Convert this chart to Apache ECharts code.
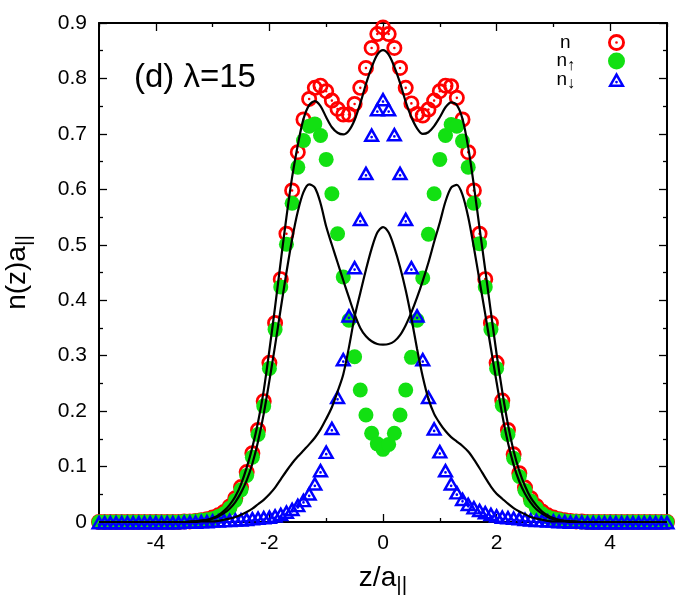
<!DOCTYPE html>
<html>
<head>
<meta charset="utf-8">
<script src="https://cdn.jsdelivr.net/npm/echarts@6/dist/echarts.min.js"></script>
<style>html,body{margin:0;padding:0;background:#fff}#c{width:700px;height:600px}</style>
</head>
<body>
<div id="c"></div>
<script>
// z grid, -5 .. 5 in steps of 0.1
const zGrid = Array.from({length: 101}, (_, i) => Math.round((-5 + 0.1 * i) * 10) / 10);

const xMajorTicks = [-4, -2, 0, 2, 4];
const xMinorTicks = [-5, -3, -1, 1, 3, 5];
const yTickLabels = ['0', '0.1', '0.2', '0.3', '0.4', '0.5', '0.6', '0.7', '0.8', '0.9'];

// n (red circles)
const nTot = [
  0,0,0,0,0,0,0,0,0,0,0,0,0,0,0,
  0.001,0.001,0.002,0.003,0.005,0.008,0.012,0.018,0.028,0.043,
  0.063,0.090,0.124,0.166,0.218,0.287,0.359,0.438,0.520,0.598,
  0.667,0.726,0.763,0.783,0.787,0.777,0.760,0.745,0.735,0.735,
  0.754,0.783,0.819,0.855,0.880,0.892,
  0.880,0.855,0.819,0.783,0.755,0.736,0.733,0.744,0.760,0.777,
  0.787,0.786,0.765,0.726,0.667,0.598,0.520,0.438,0.359,0.287,
  0.219,0.166,0.122,0.088,0.062,0.043,0.029,0.019,0.012,0.008,
  0.005,0.003,0.002,0.001,0.001,
  0,0,0,0,0,0,0,0,0,0,0,0,0,0,0
];
// n-up (green dots)
const nUp = [
  0,0,0,0,0,0,0,0,0,0,0,0,0,0,0,
  0.001,0.001,0.002,0.003,0.004,0.006,0.010,0.015,0.025,0.039,
  0.058,0.084,0.117,0.158,0.209,0.277,0.347,0.424,0.501,0.575,
  0.640,0.688,0.714,0.718,0.697,0.654,0.592,0.520,0.442,0.364,
  0.298,0.238,0.193,0.160,0.141,0.131,
  0.140,0.160,0.193,0.238,0.297,0.364,0.440,0.519,0.592,0.654,
  0.697,0.717,0.714,0.687,0.640,0.575,0.502,0.424,0.347,0.277,
  0.210,0.158,0.115,0.082,0.057,0.038,0.025,0.015,0.009,0.006,
  0.004,0.002,0.001,0.001,0,
  0,0,0,0,0,0,0,0,0,0,0,0,0,0,0
];
// n-down (blue triangles)
const nDown = [
  0,0,0,0,0,0,0,0,0,0,0,0,0,0,0,
  0.001,0.001,0.001,0.002,0.002,0.003,0.003,0.004,0.004,0.005,
  0.005,0.006,0.007,0.008,0.009,0.010,0.012,0.015,0.019,0.024,
  0.031,0.040,0.052,0.070,0.094,0.127,0.170,0.226,0.294,0.373,
  0.460,0.547,0.630,0.699,0.745,0.763,
  0.745,0.700,0.630,0.547,0.460,0.373,0.294,0.226,0.169,0.128,
  0.094,0.070,0.054,0.042,0.033,0.027,0.022,0.018,0.015,0.012,
  0.010,0.009,0.008,0.007,0.006,0.005,0.004,0.004,0.003,0.003,
  0.002,0.002,0.001,0.001,0.001,
  0,0,0,0,0,0,0,0,0,0,0,0,0,0,0
];
// solid curves
const curveTot = [
  0,0,0,0,0,0,0,0,0,0,0,0,0,0,0,0,
  0.001,0.001,0.003,0.004,0.007,0.012,0.020,0.031,0.046,
  0.068,0.098,0.135,0.180,0.237,0.310,0.388,0.470,0.550,0.622,
  0.680,0.727,0.752,0.759,0.750,0.730,0.712,0.702,0.699,0.706,
  0.725,0.755,0.790,0.820,0.843,0.851,
  0.843,0.821,0.792,0.758,0.730,0.710,0.700,0.703,0.714,0.730,
  0.748,0.757,0.752,0.727,0.676,0.607,0.530,0.455,0.378,0.303,
  0.235,0.176,0.128,0.092,0.065,0.044,0.030,0.019,0.012,0.007,
  0.004,0.002,0.001,0.001,
  0,0,0,0,0,0,0,0,0,0,0,0,0,0,0,0
];
const curveUp = [
  0,0,0,0,0,0,0,0,0,0,0,0,0,0,0,0,
  0,0.001,0.002,0.003,0.006,0.010,0.016,0.024,0.036,
  0.053,0.075,0.105,0.145,0.195,0.255,0.318,0.385,0.450,0.510,
  0.560,0.595,0.609,0.603,0.575,0.533,0.500,0.468,0.436,0.405,
  0.375,0.350,0.335,0.326,0.321,0.320,
  0.321,0.326,0.337,0.355,0.378,0.405,0.435,0.468,0.505,0.540,
  0.578,0.603,0.608,0.590,0.550,0.495,0.435,0.375,0.313,0.252,
  0.193,0.143,0.103,0.073,0.051,0.035,0.023,0.015,0.009,0.005,
  0.003,0.002,0.001,0,
  0,0,0,0,0,0,0,0,0,0,0,0,0,0,0,0
];
const curveDown = [
  0,0,0,0,0,0,0,0,0,0,0,0,0,0,0,0,
  0,0,0.001,0.001,0.001,0.002,0.004,0.006,0.009,
  0.013,0.018,0.024,0.032,0.040,0.050,0.062,0.077,0.092,0.106,
  0.118,0.129,0.140,0.152,0.167,0.186,0.207,0.235,0.266,0.315,
  0.370,0.413,0.455,0.493,0.522,0.532,
  0.522,0.495,0.460,0.418,0.368,0.312,0.262,0.222,0.195,0.178,
  0.164,0.153,0.145,0.137,0.127,0.113,0.097,0.080,0.064,0.051,
  0.042,0.033,0.025,0.019,0.014,0.009,0.006,0.004,0.002,0.001,
  0.001,0.001,0,0,
  0,0,0,0,0,0,0,0,0,0,0,0,0,0,0,0
];

const pairs = arr => zGrid.map((z, i) => [z, arr[i]]);

const FONT = 'Liberation Sans, Arial, Helvetica, sans-serif';
const RED = '#ff0000', GREEN = '#12e012', BLUE = '#0000ff';
const ringDot = 'path://M0,50A50,50 0 1,1 100,50A50,50 0 1,1 0,50Z M17,50A33,33 0 1,0 83,50A33,33 0 1,0 17,50Z M42,50A8,8 0 1,1 58,50A8,8 0 1,1 42,50Z';
const triDot = 'path://M50,0L100,87L0,87Z M50,30.6L25,73.1L75,73.1Z M42,58.5A8,8 0 1,1 58,58.5A8,8 0 1,1 42,58.5Z';

const chart = echarts.init(document.getElementById('c'), null, {renderer: 'canvas'});
const axisLineStyle = {color: '#000', width: 2};
const tickStyle = {color: '#000', width: 1.3};
const nameRich = {
  m: {fontSize: 28, fontFamily: FONT, color: '#000', verticalAlign: 'top', lineHeight: 32},
  s: {fontSize: 21, fontFamily: FONT, color: '#000', verticalAlign: 'bottom', lineHeight: 22, padding: [16, 0, 0, 0]}
};

const option = {
  animation: false,
  backgroundColor: '#fff',
  grid: {left: 99, right: 33, top: 23, bottom: 78, containLabel: false, outerBoundsMode: 'none'},
  xAxis: [
    {
      type: 'value', min: -5, max: 5, position: 'bottom',
      axisLine: {show: true, lineStyle: axisLineStyle, onZero: false},
      axisTick: {show: true, inside: true, length: 8, customValues: xMajorTicks, lineStyle: tickStyle},
      axisLabel: {customValues: xMajorTicks, fontSize: 21, fontFamily: FONT, color: '#000', margin: 11},
      splitLine: {show: false},
      name: '{m|z/a}{s|||}', nameLocation: 'middle', nameGap: 22,
      nameTextStyle: {rich: nameRich}
    },
    {
      type: 'value', min: -5, max: 5, position: 'bottom',
      axisLine: {show: false, onZero: false},
      axisTick: {show: true, inside: true, length: 4, customValues: xMinorTicks, lineStyle: tickStyle},
      axisLabel: {show: false}, splitLine: {show: false}
    },
    {
      type: 'value', min: -5, max: 5, position: 'top',
      axisLine: {show: true, lineStyle: axisLineStyle, onZero: false},
      axisTick: {show: true, inside: true, length: 8, customValues: xMajorTicks, lineStyle: tickStyle},
      axisLabel: {show: false}, splitLine: {show: false}
    },
    {
      type: 'value', min: -5, max: 5, position: 'top',
      axisLine: {show: false, onZero: false},
      axisTick: {show: true, inside: true, length: 4, customValues: xMinorTicks, lineStyle: tickStyle},
      axisLabel: {show: false}, splitLine: {show: false}
    }
  ],
  yAxis: [
    {
      type: 'value', min: 0, max: 0.9, interval: 0.1, position: 'left',
      axisLine: {show: true, lineStyle: axisLineStyle, onZero: false},
      axisTick: {show: true, inside: true, length: 8, lineStyle: tickStyle},
      minorTick: {show: true, splitNumber: 2, length: 4, lineStyle: tickStyle},
      axisLabel: {fontSize: 21, fontFamily: FONT, color: '#000', margin: 12,
        formatter: (v) => yTickLabels[Math.round(v * 10)]},
      splitLine: {show: false},
      name: '{m|n(z)a}{s|||}', nameLocation: 'middle', nameGap: 64, nameRotate: 90,
      nameTextStyle: {rich: nameRich}
    },
    {
      type: 'value', min: 0, max: 0.9, interval: 0.1, position: 'right',
      axisLine: {show: true, lineStyle: axisLineStyle, onZero: false},
      axisTick: {show: true, inside: true, length: 8, lineStyle: tickStyle},
      minorTick: {show: true, splitNumber: 2, length: 4, lineStyle: tickStyle},
      axisLabel: {show: false}, splitLine: {show: false}
    }
  ],
  legend: {
    data: ['n', 'n↑', 'n↓'],
    orient: 'vertical', align: 'right', right: 70, top: 28,
    itemWidth: 17, itemHeight: 17, itemGap: -3.5,
    selectedMode: false,
    textStyle: {fontSize: 19, fontFamily: FONT, color: '#000', padding: [0, 28, 0, 0],
      rich: {
        s: {fontSize: 16, fontFamily: FONT, color: '#000', verticalAlign: 'bottom', padding: [9, 0, 0, 0]}
      }},
    formatter: (name) => 'n{s|' + (name.length > 1 ? name.slice(1) : ' ') + '}'
  },
  graphic: [{
    type: 'text', left: 134, top: 61,
    style: {text: '(d) λ=15', fontSize: 33, fontFamily: FONT, fill: '#000'}
  }],
  series: [
    {name: 'n', type: 'scatter', data: pairs(nTot), symbol: ringDot, symbolSize: 16,
      itemStyle: {color: RED, opacity: 1}, clip: false, z: 2},
    {name: 'n↑', type: 'scatter', data: pairs(nUp), symbol: 'circle', symbolSize: 15,
      itemStyle: {color: GREEN, opacity: 1}, clip: false, z: 3},
    {name: 'n↓', type: 'scatter', data: pairs(nDown), symbol: triDot, symbolSize: [17, 15],
      itemStyle: {color: BLUE, opacity: 1}, clip: false, z: 4},
    {name: 'theory n', type: 'line', data: pairs(curveTot), showSymbol: false, symbol: 'none', smooth: 0.3,
      lineStyle: {color: '#000', width: 2.2}, z: 5, silent: true},
    {name: 'theory up', type: 'line', data: pairs(curveUp), showSymbol: false, symbol: 'none', smooth: 0.3,
      lineStyle: {color: '#000', width: 2.2}, z: 5, silent: true},
    {name: 'theory down', type: 'line', data: pairs(curveDown), showSymbol: false, symbol: 'none', smooth: 0.3,
      lineStyle: {color: '#000', width: 2.2}, z: 5, silent: true}
  ]
};
chart.setOption(option);
</script>
</body>
</html>
